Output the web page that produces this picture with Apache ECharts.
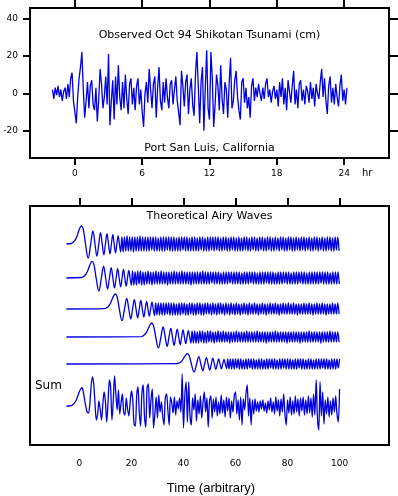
<!DOCTYPE html>
<html>
<head>
<meta charset="utf-8">
<script src="https://cdn.jsdelivr.net/npm/echarts@6/dist/echarts.min.js"></script>
<style>
html, body { margin: 0; padding: 0; background: #fff; }
#chart { width: 398px; height: 496px; }
</style>
</head>
<body>
<div id="chart"></div>
<script>
// tide gauge, Port San Luis (cm), one reading every 7.5 min starting at -2 hr
var tideStart = -2
var tideStep = 0.125
var tideCm = [
  2, -3, 3, -1, 4, -2, 2, -4, 1, 3,
  -3, 5, -2, 8, 11, -4, -10, -16, -2, 8,
  14, 22, 2, -13, -4, 6, -8, 4, 7, -6,
  -9, 3, -15, -3, 13, 5, -8, -2, 9, -6,
  21, -17, -4, 7, -14, 9, -6, 15, -2, -9,
  6, -8, 10, -3, -11, 5, 8, -6, 3, -9,
  4, 8, -6, 2, -10, -18, 0, 6, -5, 13,
  2, -8, 5, 9, -13, 3, 14, -4, -9, 6,
  -5, 8, -2, -8, 5, 7, -6, 2, 9, -4,
  -10, -17, 12, 4, -7, 6, 10, -11, 2, 8,
  -6, -12, 10, 22, 4, -16, 6, 14, -20, 3,
  23, -8, -14, 22, 8, -18, -6, 10, 4, -9,
  15, -3, -11, 6, 2, -13, 5, 19, -8, -4,
  7, 12, -2, -9, -14, 6, 8, -5, 3, -8,
  -2, -13, 4, 8, -4, 3, -2, 5, 0, -4,
  3, -3, 5, 8, -2, 2, -5, 1, 4, -3,
  2, -7, 6, -2, 8, -6, 3, -9, 7, 1,
  -5, 4, 12, -6, 2, -8, 5, 7, -4, 2,
  -6, 4, 1, -5, 6, -3, 3, -7, 5, 0,
  -3, 6, 13, -2, 8, -4, -11, 4, 9, -5,
  3, -6, 5, -2, -7, 4, 10, -4, 2, -6, 3
]

var hourTicks = [0, 6, 12, 18, 24]
var cmTicks = [-20, 0, 20, 40]
var timeTicks = [0, 20, 40, 60, 80, 100]

// airy waves: each trace is flat from leadIn, then its first crest arrives
var leadIn = -5
var arrivals = [0.8, 4.9, 13.8, 27.8, 41.5]

// head of each wave: samples at these lags from the first crest
var headLag = [-4.0, -3.5, -2.9, -2.3, -1.75, -1.2, -0.6, 0, 0.6, 1.13, 1.52, 2.56,
  3.53, 4.37, 5.18, 5.92, 6.63, 7.31, 7.96, 8.59, 9.2, 9.79, 10.37, 10.94,
  11.49, 12.03, 12.55, 13.07, 13.58, 14.08, 14.57, 15.06]
var airyHead1 = [0.5, 1.2, 2.5, 4.6, 7.8, 12, 16.2, 18.2, 15.5, 7.7, 0, -14.2, 0, 13, 0, -12.2,
  0, 11.3, 0, -10.8, 0, 10.3, 0, -9.8, 0, 9.3, 0, -8.8, 0, 8.2, 0, -7.9]
var airyHead2 = [0.5, 1.1, 2.3, 4.2, 7.1, 11, 14.8, 16.6, 14.1, 7, 0, -13, 0, 11.8, 0, -11.1,
  0, 10.3, 0, -9.9, 0, 9.4, 0, -8.9, 0, 8.5, 0, -8, 0, 7.5, 0, -7.2]
var airyHead3 = [0.4, 1, 2, 3.8, 6.5, 9.9, 13.3, 15, 12.8, 6.4, 0, -11.7, 0, 10.7, 0, -10,
  0, 9.4, 0, -8.9, 0, 8.5, 0, -8.1, 0, 7.7, 0, -7.2, 0, 6.8, 0, -6.5]
var airyHead4 = [0.4, 0.9, 1.9, 3.6, 6, 9.2, 12.4, 14, 11.9, 5.9, 0, -10.9, 0, 10, 0, -9.3,
  0, 8.7, 0, -8.3, 0, 7.9, 0, -7.5, 0, 7.1, 0, -6.7, 0, 6.3, 0, -6.1]
var airyHead5 = [0.3, 0.7, 1.4, 2.6, 4.4, 6.8, 9.1, 10.3, 8.7, 4.4, 0, -8, 0, 7.3, 0, -6.8,
  0, 6.4, 0, -6.1, 0, 5.8, 0, -5.5, 0, 5.2, 0, -4.9, 0, 4.6, 0, -4.5]

// dense tail of each wave, every half unit from 15.5 after the first crest
var tailLag = 15.5
var tailStep = 0.5
var airyTail1 = [
  7, -8, 7, -7, 8, -7, 7, -7, 7, -8, 7, -7, 7, -7, 8, -7, 7, -7, 7, -7,
  7, -7, 7, -6, 7, -7, 7, -7, 6, -7, 7, -7, 7, -7, 7, -6, 7, -7, 7, -7,
  7, -7, 6, -7, 7, -7, 7, -6, 7, -7, 7, -7, 6, -7, 7, -7, 7, -7, 6, -7,
  7, -6, 7, -7, 6, -7, 7, -7, 7, -6, 7, -7, 7, -6, 7, -7, 6, -7, 7, -6,
  7, -7, 6, -7, 7, -6, 7, -7, 6, -7, 7, -7, 6, -7, 7, -6, 7, -7, 6, -7,
  7, -6, 7, -7, 6, -7, 7, -6, 7, -7, 6, -7, 7, -6, 7, -7, 6, -7, 7, -6,
  6, -7, 7, -6, 7, -7, 6, -7, 7, -6, 7, -7, 6, -7, 7, -6, 6, -7, 7, -6,
  7, -7, 6, -6, 7, -7, 6, -7, 7, -6, 7, -7, 6, -6, 7, -7, 6, -7, 7, -6,
  7, -7, 6, -7, 7, -6, 7, -7
]
var airyTail2 = [
  7, -7, 6, -7, 7, -6, 7, -7, 6, -7, 6, -6, 7, -6, 6, -7, 6, -6, 7, -6,
  6, -6, 7, -6, 6, -6, 6, -7, 6, -6, 6, -6, 7, -6, 6, -6, 6, -6, 7, -6,
  6, -6, 6, -6, 6, -7, 6, -6, 6, -6, 6, -6, 6, -6, 7, -6, 6, -6, 6, -6,
  6, -5, 6, -6, 6, -6, 6, -6, 5, -6, 6, -6, 6, -6, 6, -5, 6, -6, 6, -6,
  6, -6, 6, -6, 5, -6, 6, -6, 6, -6, 6, -5, 6, -6, 6, -6, 5, -6, 6, -6,
  6, -6, 6, -5, 6, -6, 6, -6, 6, -6, 5, -6, 6, -6, 6, -6, 6, -5, 6, -6,
  6, -6, 5, -6, 6, -6, 6, -6, 6, -5, 6, -6, 6, -6, 5, -6, 6, -6, 6, -6,
  6, -6, 6, -6, 6, -5, 6, -6, 6, -6, 6, -6, 5, -6, 6, -6, 6, -6, 6, -6
]
var airyTail3 = [
  6, -6, 6, -6, 6, -6, 6, -6, 6, -5, 6, -6, 6, -6, 6, -6, 5, -6, 6, -6,
  6, -5, 6, -6, 5, -6, 6, -5, 6, -6, 5, -6, 6, -5, 6, -6, 5, -6, 6, -5,
  6, -5, 5, -6, 6, -5, 5, -6, 6, -5, 6, -5, 5, -6, 6, -5, 5, -6, 6, -5,
  5, -6, 6, -5, 5, -6, 5, -5, 6, -5, 5, -6, 6, -5, 5, -5, 6, -5, 5, -6,
  5, -5, 6, -5, 5, -6, 5, -5, 6, -5, 5, -5, 6, -5, 5, -6, 5, -5, 6, -5,
  5, -5, 6, -5, 5, -5, 6, -5, 5, -6, 5, -5, 5, -5, 6, -5, 5, -5, 6, -5,
  5, -6, 5, -5, 6, -5, 5, -5, 6, -5, 5, -6, 5, -5, 5, -5, 6, -5, 5, -5,
  6, -5
]
var airyTail4 = [
  6, -6, 6, -6, 5, -6, 6, -5, 6, -6, 5, -6, 6, -5, 6, -5, 5, -6, 5, -5,
  6, -5, 5, -5, 6, -5, 5, -5, 5, -6, 5, -5, 5, -5, 6, -5, 5, -5, 5, -5,
  5, -5, 6, -5, 5, -5, 5, -5, 5, -5, 6, -5, 5, -5, 5, -5, 5, -6, 5, -5,
  5, -5, 5, -5, 6, -5, 5, -5, 5, -5, 5, -5, 5, -6, 5, -5, 5, -5, 5, -5,
  5, -5, 5, -6, 5, -5, 5, -5, 5, -5, 6, -5, 5, -5, 5, -5, 5, -5, 5, -6,
  5, -5, 5, -5, 5, -5, 6, -5, 5, -5, 5, -5, 5, -5
]
var airyTail5 = [
  5, -5, 5, -5, 5, -5, 5, -4, 5, -5, 5, -5, 4, -5, 5, -5, 5, -4, 5, -5,
  5, -5, 4, -5, 5, -5, 5, -5, 4, -5, 5, -5, 5, -4, 5, -5, 5, -5, 4, -5,
  5, -5, 5, -4, 5, -5, 5, -5, 5, -5, 4, -5, 5, -5, 5, -4, 5, -5, 5, -5,
  4, -5, 5, -5, 5, -5, 4, -5, 5, -5, 5, -5, 5, -4, 5, -5, 5, -5, 4, -5,
  5, -5, 5, -5, 5, -4, 5
]

// sum of the five waves, every half unit from -5
var sumStart = -5
var sumStep = 0.5
var airySum = [
  0, 0, 0, 0.3, 0.6, 1.5, 2.6, 4.5, 7.3, 11,
  14.5, 17, 18.5, 14, 6, -1, -6, -7, 2, 20,
  29, 22, 2, -14, -8, 5, -4, -14, 2, 14,
  4, -16, 4, 26, 18, -14, 5, 30, 12, -4,
  16, -8, 3, 12, -6, -9, 8, -3, -10, 4,
  15, 6, -18, -20, 10, 19, -6, -20, 12, 21,
  -10, -21, 18, 22, -12, 6, 17, -22, -8, 9,
  -12, 11, -6, 4, -10, -19, 8, 12, -4, -19,
  9, 3, -7, 9, -9, 5, -3, 8, -6, 32,
  -22, 10, 24, -16, 24, -10, -19, 8, -4, 12,
  -15, 6, -8, 10, -12, 3, 14, -6, 8, -21,
  5, 10, -12, 7, -6, 9, -10, 4, -8, 11,
  -7, 6, -11, 9, -5, 8, -12, 5, -6, 10,
  14, -8, 6, -14, 9, -19, 7, -4, 12, 21,
  -10, 8, -19, 6, -8, 7, -5, 4, -6, 5,
  -3, 6, -5, 3, -7, 5, -4, 8, -6, 4,
  -8, 9, -5, 6, -10, 7, -6, 12, -8, -19,
  6, -7, 9, -9, 5, -8, 10, -6, 7, -10,
  8, -5, 9, -9, 6, -8, 10, -7, 8, -11,
  12, -9, 26, -12, -24, 24, -10, 14, -18, 6,
  -8, 9, -11, 5, -9, 8, -6, 10, -8, -16, 17
]

var blue = '#0000e0'
var font = 'DejaVu Sans'

function evenSeries(start, step, vals) {
  return vals.map(function (v, i) { return [start + i * step, v] })
}

function airyTrace(k, head, tail) {
  var t0 = arrivals[k]
  var pts = [[leadIn, 0]]
  head.forEach(function (v, i) { pts.push([t0 + headLag[i], v]) })
  tail.forEach(function (v, i) { pts.push([t0 + tailLag + i * tailStep, v]) })
  return pts
}

var myChart = echarts.init(document.getElementById('chart'), null, { renderer: 'canvas' })

// top edge of the little grid that holds each stacked wave
var traceTops = [214, 248, 279, 307, 334]

var grids = [
  { left: 30, right: 9, top: 8, height: 150, show: true, borderColor: '#000', borderWidth: 2, outerBoundsMode: 'none' },
  { left: 30, right: 9, top: 206, height: 239, show: true, borderColor: '#000', borderWidth: 2, outerBoundsMode: 'none' }
]
traceTops.forEach(function (t) {
  grids.push({ left: 30, right: 9, top: t, height: 60, outerBoundsMode: 'none' })
})
grids.push({ left: 30, right: 9, top: 366, height: 80, outerBoundsMode: 'none' })

var tickStyle = { color: '#000', width: 2 }
var labelStyle = { color: '#000', fontSize: 9, fontFamily: font }
var noLine = { show: false, onZero: false }

var xAxes = [
  {
    gridIndex: 0, type: 'value', position: 'bottom', min: -4, max: 28,
    axisLine: noLine, splitLine: { show: false },
    axisTick: { show: true, length: 7, customValues: hourTicks, lineStyle: tickStyle },
    axisLabel: Object.assign({ customValues: hourTicks, margin: 11 }, labelStyle)
  },
  {
    gridIndex: 0, type: 'value', position: 'top', min: -4, max: 28,
    axisLine: noLine, splitLine: { show: false }, axisLabel: { show: false },
    axisTick: { show: true, length: 8, customValues: hourTicks, lineStyle: tickStyle }
  },
  {
    gridIndex: 1, type: 'value', position: 'bottom', min: -19, max: 119,
    axisLine: noLine, splitLine: { show: false }, axisTick: { show: false },
    axisLabel: Object.assign({ customValues: timeTicks, margin: 14 }, labelStyle)
  },
  {
    gridIndex: 1, type: 'value', position: 'top', min: -19, max: 119,
    axisLine: noLine, splitLine: { show: false }, axisLabel: { show: false },
    axisTick: { show: true, length: 8, customValues: timeTicks, lineStyle: tickStyle }
  }
]
var yAxes = [
  {
    gridIndex: 0, type: 'value', position: 'left', min: -34.5, max: 45.5,
    axisLine: noLine, splitLine: { show: false },
    axisTick: { show: true, length: 7, customValues: cmTicks, lineStyle: tickStyle },
    axisLabel: Object.assign({ customValues: cmTicks, margin: 12 }, labelStyle)
  },
  {
    gridIndex: 0, type: 'value', position: 'right', min: -34.5, max: 45.5,
    axisLine: noLine, splitLine: { show: false }, axisLabel: { show: false },
    axisTick: { show: true, length: 9, customValues: cmTicks, lineStyle: tickStyle }
  },
  { gridIndex: 1, type: 'value', min: 0, max: 1, show: false }
]
for (var g = 2; g < 8; g++) {
  xAxes.push({ gridIndex: g, type: 'value', min: -19, max: 119, show: false })
  var lim = g === 7 ? 40 : 30
  yAxes.push({ gridIndex: g, type: 'value', min: -lim, max: lim, show: false })
}

function lineSeries(extra, width) {
  return Object.assign({
    type: 'line', showSymbol: false, silent: true, animation: false,
    lineStyle: { color: blue, width: width }, itemStyle: { color: blue }
  }, extra)
}

var series = [
  lineSeries({ xAxisIndex: 0, yAxisIndex: 0, data: evenSeries(tideStart, tideStep, tideCm) }, 1.3)
]
var heads = [airyHead1, airyHead2, airyHead3, airyHead4, airyHead5]
var tails = [airyTail1, airyTail2, airyTail3, airyTail4, airyTail5]
for (var k = 0; k < 5; k++) {
  series.push(lineSeries({
    xAxisIndex: 4 + k, yAxisIndex: 3 + k, smooth: 0.4,
    data: airyTrace(k, heads[k], tails[k])
  }, 1.3))
}
series.push(lineSeries({
  xAxisIndex: 9, yAxisIndex: 8, smooth: 0.3,
  data: evenSeries(sumStart, sumStep, airySum)
}, 1.3))

function label(text, x, y, size, align, family) {
  return {
    type: 'text', x: x, y: y, silent: true,
    style: {
      text: text, fill: '#000', fontSize: size, fontFamily: family || font,
      align: align || 'center', verticalAlign: 'middle'
    }
  }
}

var option = {
  animation: false,
  backgroundColor: '#fff',
  textStyle: { fontFamily: font },
  grid: grids,
  xAxis: xAxes,
  yAxis: yAxes,
  series: series,
  graphic: [
    label('Observed Oct 94 Shikotan Tsunami (cm)', 209.5, 35, 11),
    label('Port San Luis, California', 209.5, 148, 11),
    label('hr', 362, 173, 10, 'left'),
    label('Theoretical Airy Waves', 209.5, 216, 11),
    label('Sum', 35, 386, 12, 'left'),
    label('Time (arbitrary)', 211, 488, 13, 'center', 'Liberation Sans')
  ]
}

myChart.setOption(option)
</script>
</body>
</html>
